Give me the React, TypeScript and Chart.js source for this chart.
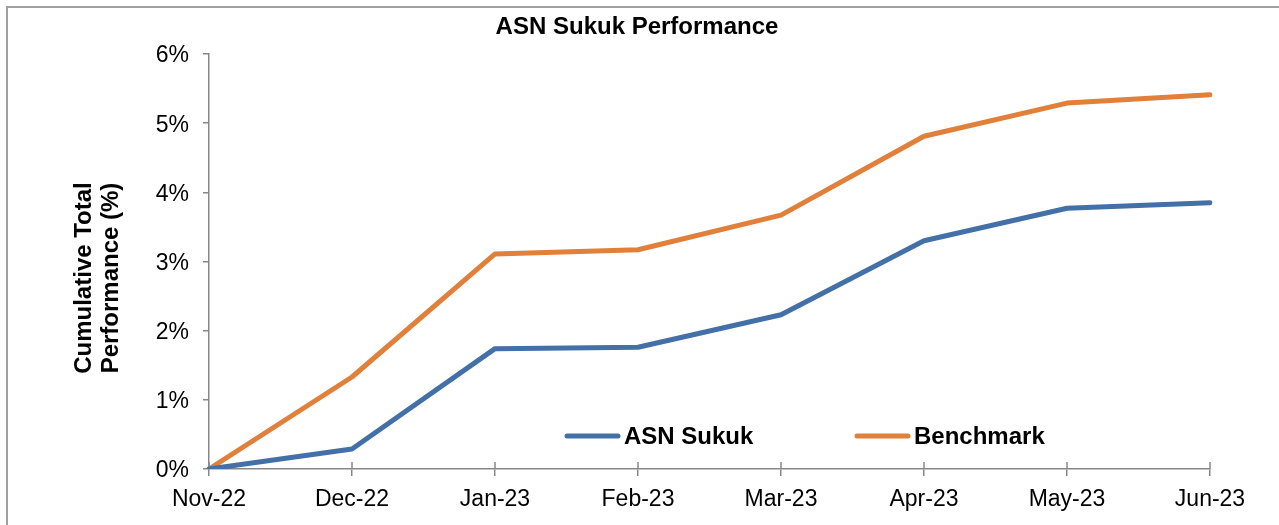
import React, { useEffect, useRef } from "react";
import { Chart, registerables } from "chart.js";

Chart.register(...registerables);

const categories = ["Nov-22", "Dec-22", "Jan-23", "Feb-23", "Mar-23", "Apr-23", "May-23", "Jun-23"];
const asnSukuk = [0, 0.29, 1.74, 1.76, 2.23, 3.3, 3.77, 3.85];
const benchmark = [0, 1.33, 3.11, 3.17, 3.67, 4.81, 5.29, 5.41];
const yTicks = [0, 1, 2, 3, 4, 5, 6];
const seriesNames = ["ASN Sukuk", "Benchmark"];
const chartTitle = "ASN Sukuk Performance";
const yTitle = ["Cumulative Total", "Performance (%)"];

const FONT = "'Liberation Sans', Arial, sans-serif";
const AXIS = "#878787";

const decorPlugin = {
  id: "decor",
  beforeDatasetsDraw(chart: any) {
    const ctx = chart.ctx;
    const xs = chart.scales.x;
    const bottom = chart.chartArea.bottom;
    ctx.save();
    ctx.strokeStyle = AXIS;
    ctx.lineWidth = 1.5;
    for (let i = 0; i < categories.length; i++) {
      const px = xs.getPixelForTick(i);
      ctx.beginPath();
      ctx.moveTo(px, bottom);
      ctx.lineTo(px, bottom - 7);
      ctx.stroke();
    }
    ctx.restore();
  },
  afterDraw(chart: any) {
    const ctx = chart.ctx;
    ctx.save();
    // title
    ctx.fillStyle = "#000";
    ctx.font = `bold 24px ${FONT}`;
    ctx.textAlign = "center";
    ctx.textBaseline = "middle";
    ctx.fillText(chartTitle, 637, 27);
    // y title
    ctx.save();
    ctx.translate(0, 278);
    ctx.rotate(-Math.PI / 2);
    ctx.textBaseline = "alphabetic";
    ctx.fillText(yTitle[0], 0, 91);
    ctx.fillText(yTitle[1], 0, 118);
    ctx.restore();
    // legend
    const legendItems = [
      { x: 565, ds: chart.data.datasets[0] },
      { x: 855, ds: chart.data.datasets[1] },
    ];
    const ly = 436;
    legendItems.forEach((it) => {
      ctx.strokeStyle = it.ds.borderColor;
      ctx.lineWidth = 5;
      ctx.lineCap = "round";
      ctx.beginPath();
      ctx.moveTo(it.x + 2, ly);
      ctx.lineTo(it.x + 53, ly);
      ctx.stroke();
      ctx.fillStyle = "#000";
      ctx.font = `bold 24px ${FONT}`;
      ctx.textAlign = "left";
      ctx.textBaseline = "middle";
      ctx.fillText(it.ds.label, it.x + 59, ly + 1);
    });
    ctx.restore();
  },
};

export default function App() {
  const ref = useRef<HTMLCanvasElement>(null);
  useEffect(() => {
    if (!ref.current) return;
    const chart = new Chart(ref.current, {
      type: "line",
      data: {
        labels: categories,
        datasets: [
          {
            label: seriesNames[0],
            data: asnSukuk,
            borderColor: "#4470a8",
            backgroundColor: "#4470a8",
            borderWidth: 5,
            pointRadius: 0,
            tension: 0,
            borderCapStyle: "round",
            borderJoinStyle: "round",
          },
          {
            label: seriesNames[1],
            data: benchmark,
            borderColor: "#e0803a",
            backgroundColor: "#e0803a",
            borderWidth: 5,
            pointRadius: 0,
            tension: 0,
            borderCapStyle: "round",
            borderJoinStyle: "round",
          },
        ],
      },
      options: {
        responsive: false,
        animation: false,
        layout: { padding: { left: 0, top: 54, right: 69, bottom: 0 } },
        plugins: {
          legend: { display: false },
          title: { display: false },
          tooltip: { enabled: false },
        },
        scales: {
          x: {
            type: "category",
            offset: false,
            afterFit: (s: any) => {
              s.height = 56;
            },
            grid: { drawOnChartArea: false, drawTicks: true, tickLength: 7, color: AXIS, lineWidth: 1.5 },
            border: { color: AXIS, width: 1.5 },
            ticks: {
              autoSkip: false,
              maxRotation: 0,
              padding: 10,
              color: "#000",
              font: { family: FONT, size: 23 },
            },
          },
          y: {
            min: 0,
            max: 6,
            afterFit: (s: any) => {
              s.width = 209;
            },
            afterBuildTicks: (s: any) => {
              s.ticks = yTicks.map((v) => ({ value: v }));
            },
            grid: { drawOnChartArea: false, drawTicks: true, tickLength: 6, color: AXIS, lineWidth: 1.5 },
            border: { color: AXIS, width: 1.5 },
            ticks: {
              padding: 14,
              labelOffset: 2,
              color: "#000",
              font: { family: FONT, size: 23 },
              callback: (v: any) => `${v}%`,
            },
          },
        },
      },
      plugins: [decorPlugin],
    });
    return () => chart.destroy();
  }, []);
  return (
    <div style={{ position: "fixed", left: 0, top: 0, width: 1279, height: 525, background: "#fff" }}>
      <canvas ref={ref} width={1279} height={525} style={{ display: "block", width: 1279, height: 525 }} />
      <div
        style={{
          position: "absolute",
          left: 6,
          top: 6,
          right: 0,
          bottom: 0,
          borderTop: "2px solid #a0a0a0",
          borderLeft: "2px solid #a0a0a0",
          pointerEvents: "none",
        }}
      />
    </div>
  );
}
